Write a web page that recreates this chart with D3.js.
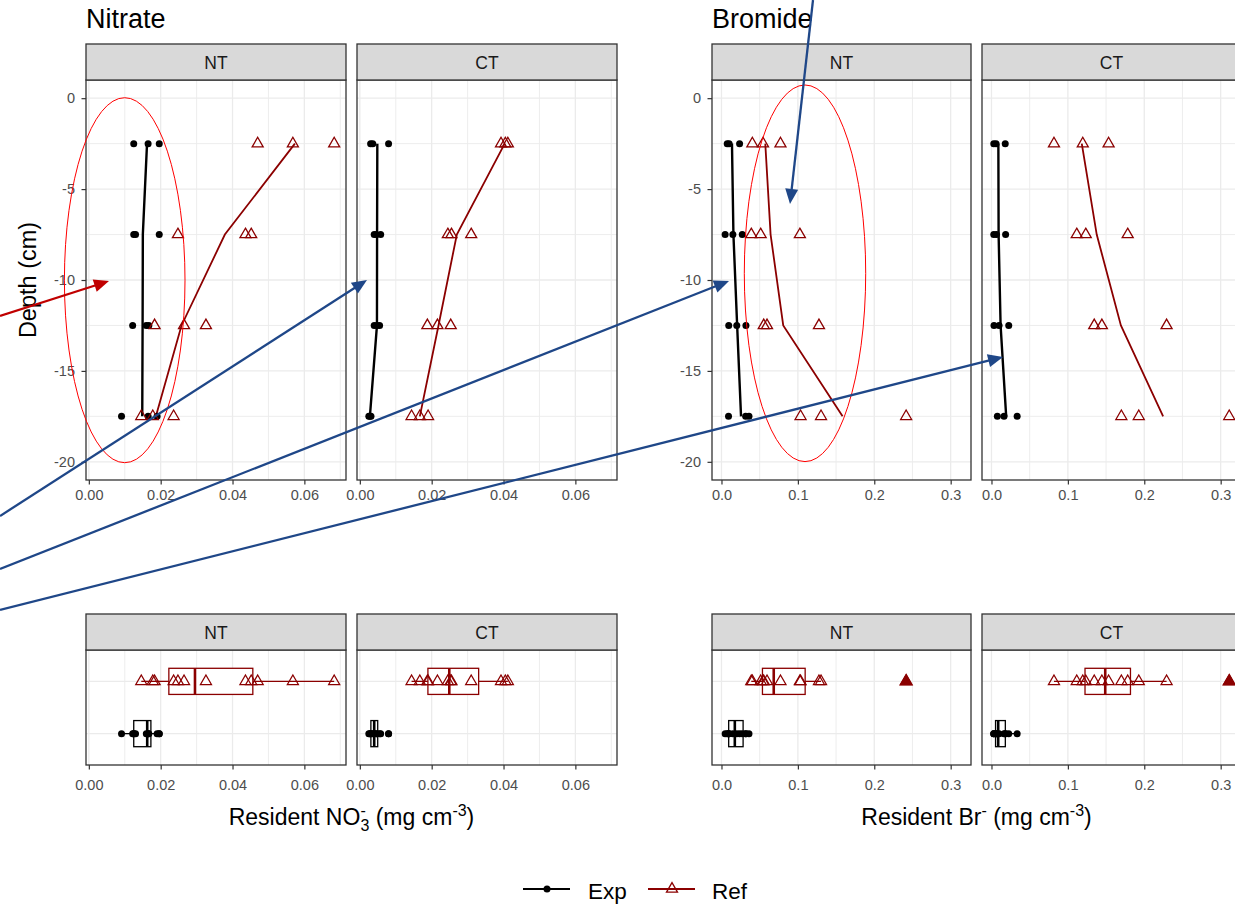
<!DOCTYPE html>
<html><head><meta charset="utf-8">
<script src="https://cdn.jsdelivr.net/npm/d3@7"></script>
<style>body{margin:0;background:#fff} text{font-family:"Liberation Sans",Arial,sans-serif}</style>
</head><body><svg id="chart" width="1235" height="907"></svg>
<script>
// ---------------- data ----------------
const depths = [-2.5, -7.5, -12.5, -17.5];
const facets = ["NT", "CT"];
const seriesNames = ["Exp", "Ref"];
// replicate values per depth (rows follow `depths`)
const no3_NT_Exp = [[0.0125,0.0165,0.0196],[0.0125,0.0130,0.0196],[0.0122,0.0160,0.0167],[0.0091,0.0165,0.0190]];
const no3_NT_Ref = [[0.0470,0.0568,0.0683],[0.0248,0.0436,0.0452],[0.0183,0.0265,0.0326],[0.0146,0.0178,0.0236]];
const no3_CT_Exp = [[0.0030,0.0036,0.0080],[0.0040,0.0046,0.0058],[0.0040,0.0048,0.0055],[0.0025,0.0028,0.0031]];
const no3_CT_Ref = [[0.0393,0.0405,0.0412],[0.0245,0.0255,0.0310],[0.0188,0.0216,0.0253],[0.0144,0.0167,0.0190]];
const br_NT_Exp = [[0.0075,0.0100,0.0237],[0.0048,0.0149,0.0272],[0.0095,0.0200,0.0320],[0.0092,0.0316,0.0360]];
const br_NT_Ref = [[0.0404,0.0544,0.0772],[0.0390,0.0513,0.1026],[0.0553,0.0596,0.1276],[0.1035,0.1303,0.2417]];
const br_CT_Exp = [[0.0030,0.0060,0.0180],[0.0030,0.0065,0.0185],[0.0033,0.0099,0.0226],[0.0077,0.0164,0.0336]];
const br_CT_Ref = [[0.0818,0.1195,0.1533],[0.1116,0.1234,0.1783],[0.1345,0.1445,0.2292],[0.1700,0.1928,0.3112]];

const no3Ticks = [0, 0.02, 0.04, 0.06];
const no3TickLabels = ["0.00","0.02","0.04","0.06"];
const no3Minor = [0.01, 0.03, 0.05, 0.07];
const brTicks = [0, 0.1, 0.2, 0.3];
const brTickLabels = ["0.0","0.1","0.2","0.3"];
const brMinor = [0.05, 0.15, 0.25];
const depthTicks = [0, -5, -10, -15, -20];
const depthTickLabels = ["0","-5","-10","-15","-20"];
const depthMinor = [-2.5, -7.5, -12.5, -17.5];
const depthLimits = [-20, 0];
const titles = ["Nitrate", "Bromide"];
const legendLabels = ["Exp", "Ref"];

// ---------------- layout / style ----------------
const svg = d3.select("#chart");
const GRID = "#EBEBEB", BORDER = "#333333", STRIP = "#D9D9D9";
const COL = {Exp: "#000000", Ref: "#8B0000"};
const GAP = 11;
const TOP = {stripY: 44, stripH: 36, panelY: 80, panelH: 400, pad: 5.5};
const BOT = {stripY: 614, stripH: 36, panelY: 650, panelH: 115, pad: 10};

const solutes = [
  {title: titles[0], left: 86, panelW: 260, ticks: no3Ticks, labels: no3TickLabels, minor: no3Minor,
   data: {NT: {Exp: no3_NT_Exp, Ref: no3_NT_Ref}, CT: {Exp: no3_CT_Exp, Ref: no3_CT_Ref}}},
  {title: titles[1], left: 712, panelW: 259, ticks: brTicks, labels: brTickLabels, minor: brMinor,
   data: {NT: {Exp: br_NT_Exp, Ref: br_NT_Ref}, CT: {Exp: br_CT_Exp, Ref: br_CT_Ref}}}
];

function triPath(s) {
  const h = s * Math.sqrt(3) / 2;
  return `M0,${-2*h/3}L${s/2},${h/3}L${-s/2},${h/3}Z`;
}
function drawPoint(g, sn, cx, cy, filled) {
  if (sn === "Exp") {
    g.append("circle").attr("cx", cx).attr("cy", cy).attr("r", 3.5).attr("fill", COL.Exp);
  } else {
    g.append("path").attr("d", triPath(filled ? 12 : 11)).attr("transform", `translate(${cx},${cy})`)
      .attr("fill", filled ? COL.Ref : "none").attr("stroke", COL.Ref).attr("stroke-width", 1.3);
  }
}
function vgrid(g, x, vals, h, w) {
  vals.forEach(v => g.append("line").attr("x1", x(v)).attr("x2", x(v)).attr("y1", 0).attr("y2", h)
    .attr("stroke", GRID).attr("stroke-width", w));
}
function hgrid(g, y, vals, wd, w) {
  vals.forEach(v => g.append("line").attr("y1", y(v)).attr("y2", y(v)).attr("x1", 0).attr("x2", wd)
    .attr("stroke", GRID).attr("stroke-width", w));
}
function strip(px, w, sy, sh, label) {
  svg.append("rect").attr("x", px).attr("y", sy).attr("width", w).attr("height", sh)
    .attr("fill", STRIP).attr("stroke", BORDER).attr("stroke-width", 1.3);
  svg.append("text").attr("x", px + w/2).attr("y", sy + sh/2 + 7).attr("text-anchor", "middle")
    .attr("font-size", 17.5).attr("fill", "#1A1A1A").text(label);
}
function bottomAxis(g, x, sol, h, pad) {
  const ax = g.append("g").attr("transform", `translate(0,${h})`)
    .call(d3.axisBottom(x).tickValues(sol.ticks).tickFormat((d, i) => sol.labels[i]).tickSize(4.5).tickPadding(pad).tickSizeOuter(0));
  ax.select(".domain").remove();
  ax.selectAll("line").attr("stroke", BORDER).attr("stroke-width", 1.2);
  ax.selectAll("text").attr("fill", "#4D4D4D").attr("font-size", 14.5).attr("font-family", '"Liberation Sans",Arial,sans-serif');
}
function boxStats(vals) {
  const s = vals.slice().sort(d3.ascending);
  const q1 = d3.quantile(s, 0.25), med = d3.quantile(s, 0.5), q3 = d3.quantile(s, 0.75);
  const iqr = q3 - q1, lo = q1 - 1.5*iqr, hi = q3 + 1.5*iqr;
  const inside = s.filter(v => v >= lo && v <= hi);
  return {q1, med, q3, wlo: d3.min(inside), whi: d3.max(inside), out: s.filter(v => v < lo || v > hi)};
}

solutes.forEach(sol => {
  const all = facets.flatMap(f => seriesNames.flatMap(sn => sol.data[f][sn].flat()));
  const [mn, mx] = d3.extent(all);
  const pad = (mx - mn) * 0.05;
  const x = d3.scaleLinear().domain([mn - pad, mx + pad]).range([0, sol.panelW]);
  const ypad = (depthLimits[1] - depthLimits[0]) * 0.05;
  const yTop = d3.scaleLinear().domain([depthLimits[0] - ypad, depthLimits[1] + ypad]).range([TOP.panelH, 0]);
  const yBot = d3.scalePoint().domain(seriesNames).range([BOT.panelH, 0]).padding(0.6);
  const band = BOT.panelH / (seriesNames.length - 1 + 1.2);

  svg.append("text").attr("x", sol.left).attr("y", 28).attr("font-size", 27).attr("fill", "#000").text(sol.title);

  facets.forEach((f, i) => {
    const px = sol.left + i * (sol.panelW + GAP);
    // ---------- upper depth-profile panel ----------
    const g = svg.append("g").attr("transform", `translate(${px},${TOP.panelY})`);
    g.append("rect").attr("width", sol.panelW).attr("height", TOP.panelH).attr("fill", "#fff");
    vgrid(g, x, sol.minor, TOP.panelH, 0.9); hgrid(g, yTop, depthMinor, sol.panelW, 0.9);
    vgrid(g, x, sol.ticks, TOP.panelH, 1.3); hgrid(g, yTop, depthTicks, sol.panelW, 1.3);
    seriesNames.forEach(sn => {
      const rows = sol.data[f][sn];
      const means = rows.map((r, k) => ({v: d3.mean(r), d: depths[k]}));
      g.append("path").datum(means).attr("d", d3.line().x(d => x(d.v)).y(d => yTop(d.d)))
        .attr("fill", "none").attr("stroke", COL[sn]).attr("stroke-width", sn === "Exp" ? 2.4 : 1.8);
    });
    seriesNames.forEach(sn => {
      sol.data[f][sn].forEach((r, k) => r.forEach(v => drawPoint(g, sn, x(v), yTop(depths[k]), false)));
    });
    g.append("rect").attr("width", sol.panelW).attr("height", TOP.panelH).attr("fill", "none")
      .attr("stroke", BORDER).attr("stroke-width", 1.3);
    bottomAxis(g, x, sol, TOP.panelH, TOP.pad);
    if (i === 0) {
      const ay = g.append("g").call(d3.axisLeft(yTop).tickValues(depthTicks).tickFormat((d, j) => depthTickLabels[j]).tickSize(4.5).tickPadding(6.5).tickSizeOuter(0));
      ay.select(".domain").remove();
      ay.selectAll("line").attr("stroke", BORDER).attr("stroke-width", 1.2);
      ay.selectAll("text").attr("fill", "#4D4D4D").attr("font-size", 14.5).attr("font-family", '"Liberation Sans",Arial,sans-serif');
    }
    strip(px, sol.panelW, TOP.stripY, TOP.stripH, f);

    // ---------- lower boxplot panel ----------
    const gb = svg.append("g").attr("transform", `translate(${px},${BOT.panelY})`);
    gb.append("rect").attr("width", sol.panelW).attr("height", BOT.panelH).attr("fill", "#fff");
    vgrid(gb, x, sol.minor, BOT.panelH, 0.9);
    vgrid(gb, x, sol.ticks, BOT.panelH, 1.3);
    seriesNames.forEach(sn => gb.append("line").attr("x1", 0).attr("x2", sol.panelW)
      .attr("y1", yBot(sn)).attr("y2", yBot(sn)).attr("stroke", GRID).attr("stroke-width", 1.3));
    seriesNames.forEach(sn => {
      const vals = sol.data[f][sn].flat();
      const st = boxStats(vals);
      const cy = yBot(sn), hh = band * 0.25;
      const c = COL[sn];
      gb.append("line").attr("x1", x(st.wlo)).attr("x2", x(st.q1)).attr("y1", cy).attr("y2", cy).attr("stroke", c).attr("stroke-width", 1.3);
      gb.append("line").attr("x1", x(st.q3)).attr("x2", x(st.whi)).attr("y1", cy).attr("y2", cy).attr("stroke", c).attr("stroke-width", 1.3);
      gb.append("rect").attr("x", x(st.q1)).attr("y", cy - hh).attr("width", x(st.q3) - x(st.q1)).attr("height", 2*hh)
        .attr("fill", "#fff").attr("stroke", c).attr("stroke-width", 1.3);
      gb.append("line").attr("x1", x(st.med)).attr("x2", x(st.med)).attr("y1", cy - hh).attr("y2", cy + hh).attr("stroke", c).attr("stroke-width", 2.6);
      st.out.forEach(v => drawPoint(gb, sn, x(v), cy, true));
      vals.forEach(v => drawPoint(gb, sn, x(v), cy, false));
    });
    gb.append("rect").attr("width", sol.panelW).attr("height", BOT.panelH).attr("fill", "none")
      .attr("stroke", BORDER).attr("stroke-width", 1.3);
    bottomAxis(gb, x, sol, BOT.panelH, BOT.pad);
    strip(px, sol.panelW, BOT.stripY, BOT.stripH, f);
  });
});

// ---------- axis titles ----------
svg.append("text").attr("transform", "translate(36,280) rotate(-90)").attr("text-anchor", "middle")
  .attr("font-size", 23.5).text("Depth (cm)");
const t1 = svg.append("text").attr("x", 351.5).attr("y", 825).attr("text-anchor", "middle").attr("font-size", 23);
t1.append("tspan").text("Resident NO");
t1.append("tspan").attr("font-size", 16).attr("dy", -9).text("-");
t1.append("tspan").attr("font-size", 16).attr("dx", -5.3).attr("dy", 15).text("3");
t1.append("tspan").attr("dy", -6).text(" (mg cm");
t1.append("tspan").attr("font-size", 16).attr("dy", -9).text("-3");
t1.append("tspan").attr("dy", 9).text(")");
const t2 = svg.append("text").attr("x", 976.5).attr("y", 825).attr("text-anchor", "middle").attr("font-size", 23);
t2.append("tspan").text("Resident Br");
t2.append("tspan").attr("font-size", 16).attr("dy", -9).text("-");
t2.append("tspan").attr("dy", 9).text(" (mg cm");
t2.append("tspan").attr("font-size", 16).attr("dy", -9).text("-3");
t2.append("tspan").attr("dy", 9).text(")");

// ---------- legend ----------
const leg = svg.append("g").attr("transform", "translate(0,889)");
[[523, 588], [648, 712]].forEach(([lx, tx], i) => {
  const sn = seriesNames[i];
  leg.append("line").attr("x1", lx).attr("x2", lx + 47).attr("y1", 0).attr("y2", 0).attr("stroke", COL[sn]).attr("stroke-width", 2.2);
  drawPoint(leg, sn, lx + 24, 0, false);
  leg.append("text").attr("x", tx).attr("y", 10).attr("font-size", 22.5).text(legendLabels[i]);
});

// ---------- annotations (overlay drawn on the figure) ----------
const ellipses = [
  {cx: 124.7, cy: 280.2, rx: 60.3, ry: 182.5},
  {cx: 805, cy: 273.3, rx: 60.7, ry: 188.3}
];
ellipses.forEach(e => svg.append("ellipse").attr("cx", e.cx).attr("cy", e.cy).attr("rx", e.rx).attr("ry", e.ry)
  .attr("fill", "none").attr("stroke", "#FF0000").attr("stroke-width", 1));
const arrows = [
  {x1: 0, y1: 316, x2: 109, y2: 281, c: "#C00000"},
  {x1: 0, y1: 516, x2: 367, y2: 280, c: "#1F4788"},
  {x1: 0, y1: 569, x2: 729, y2: 281, c: "#1F4788"},
  {x1: 0, y1: 610, x2: 1003, y2: 357, c: "#1F4788"},
  {x1: 813, y1: 0, x2: 790, y2: 204, c: "#1F4788"}
];
arrows.forEach(a => {
  const ang = Math.atan2(a.y2 - a.y1, a.x2 - a.x1);
  const L = 15, Wd = 6.5;
  const bx = a.x2 - L*Math.cos(ang), by = a.y2 - L*Math.sin(ang);
  svg.append("line").attr("x1", a.x1).attr("y1", a.y1).attr("x2", bx + 2*Math.cos(ang)).attr("y2", by + 2*Math.sin(ang))
    .attr("stroke", a.c).attr("stroke-width", 2.3);
  const p1 = [bx + Wd*Math.sin(ang), by - Wd*Math.cos(ang)], p2 = [bx - Wd*Math.sin(ang), by + Wd*Math.cos(ang)];
  svg.append("path").attr("d", `M${a.x2},${a.y2}L${p1[0]},${p1[1]}L${p2[0]},${p2[1]}Z`).attr("fill", a.c);
});
</script></body></html>
